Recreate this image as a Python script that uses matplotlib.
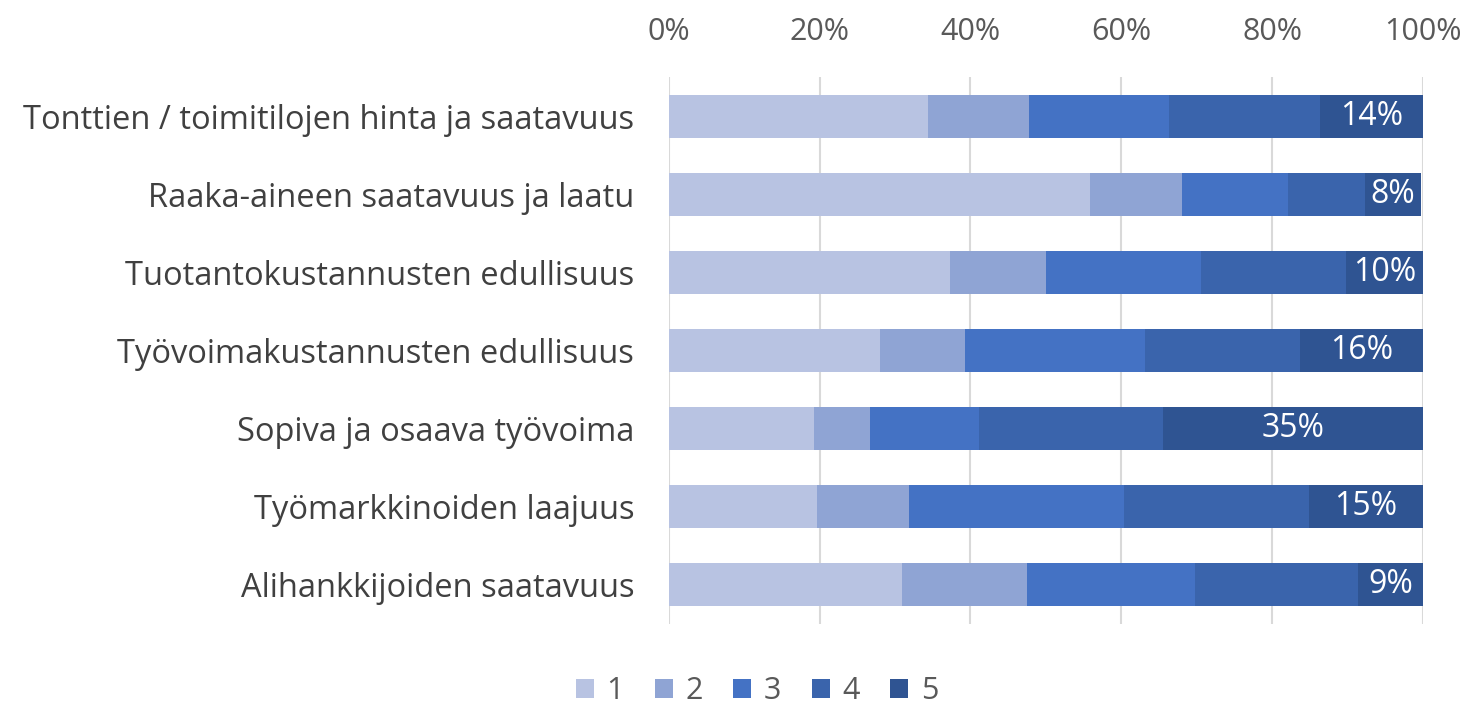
import matplotlib
matplotlib.use("Agg")
import matplotlib.pyplot as plt
import numpy as np

plt.rcParams["font.family"] = ["Open Sans", "DejaVu Sans"]

categories = [
    "Tonttien / toimitilojen hinta ja saatavuus",
    "Raaka-aineen saatavuus ja laatu",
    "Tuotantokustannusten edullisuus",
    "Työvoimakustannusten edullisuus",
    "Sopiva ja osaava työvoima",
    "Työmarkkinoiden laajuus",
    "Alihankkijoiden saatavuus",
]
series_names = ["1", "2", "3", "4", "5"]
s1 = [34.3, 55.8, 37.3, 28.0, 19.2, 19.7, 30.9]
s2 = [13.4, 12.3, 12.7, 11.3, 7.5, 12.2, 16.6]
s3 = [18.6, 14.0, 20.6, 23.8, 14.4, 28.5, 22.3]
s4 = [20.0, 10.2, 19.2, 20.6, 24.4, 24.5, 21.6]
s5 = [13.7, 7.5, 10.2, 16.3, 34.5, 15.1, 8.6]
labels5 = ["14%", "8%", "10%", "16%", "35%", "15%", "9%"]

colors = ["#B8C3E2", "#8FA4D4", "#4472C4", "#3A64AC", "#2F5492"]

fig = plt.figure(figsize=(14.7, 7.09), dpi=100)
ax = fig.add_axes([0.455, 0.12, 0.513, 0.771])

y = np.arange(len(categories))
left = np.zeros(len(categories))
for name, vals, c in zip(series_names, [s1, s2, s3, s4, s5], colors):
    bars = ax.barh(y, vals, left=left, height=0.55, color=c, label=name, zorder=3)
    left += np.array(vals)
ax.bar_label(bars, labels=labels5, label_type="center", color="white",
             fontsize=23, fontweight="medium", zorder=4)

ax.set_xlim(0, 100)
ax.set_ylim(len(categories) - 0.5, -0.5)
ax.set_yticks(y)
ax.set_yticklabels(categories, fontsize=23.5, color="#404040")
ax.set_xticks(np.arange(0, 101, 20))
ax.set_xticklabels([f"{v}%" for v in range(0, 101, 20)], fontsize=22, color="#595959")
ax.xaxis.tick_top()
ax.tick_params(axis="y", length=0, pad=25)
ax.tick_params(axis="x", length=0, pad=22)
ax.grid(axis="x", color="#D9D9D9", linewidth=1.5, zorder=0)
for s in ax.spines.values():
    s.set_visible(False)

fig.legend(loc="center", bbox_to_anchor=(0.515, 0.025), ncol=5, frameon=False,
           fontsize=22, handlelength=0.6, handleheight=0.6, handletextpad=0.4,
           columnspacing=1.0, labelcolor="#595959")

fig.savefig("out.png", dpi=100)
